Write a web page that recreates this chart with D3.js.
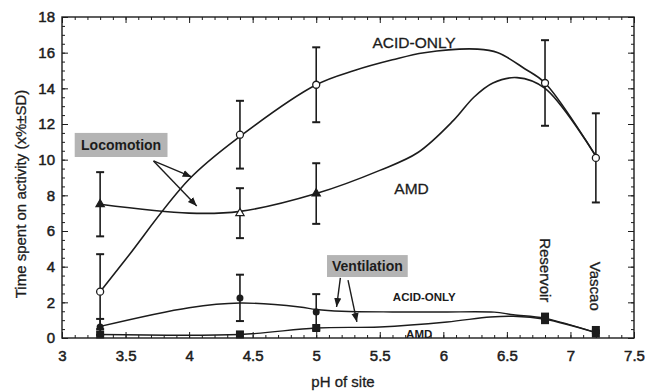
<!DOCTYPE html>
<html><head><meta charset="utf-8">
<script src="https://cdn.jsdelivr.net/npm/d3@7"></script>
<style>
body{margin:0;background:#fff;}
svg{display:block;font-family:"Liberation Sans",Arial,sans-serif;}
</style></head>
<body><svg id="c" width="645" height="392"></svg>
<script>
// ---- data ----
const acidPH = [3.3, 4.4, 5.0];          // acid sites
const refPH = [6.8, 7.2];                // reference sites
const refNames = ["Reservoir", "Vascao"];
const locoAcid = [2.6, 11.4, 14.2];
const locoAcidSD = [2.1, 1.9, 2.1];
const locoAmd = [7.5, 7.0, 8.1];
const locoAmdSD = [1.8, 1.4, 1.7];
const locoRef = [14.3, 10.1];
const locoRefSD = [2.4, 2.5];
const ventAcid = [0.62, 2.25, 1.46];
const ventAcidSD = [0.45, 1.3, 1.0];
const ventAmd = [0.2, 0.2, 0.56];
const ventRefAcid = [1.2, 0.45];
const ventRefAmd = [1.0, 0.25];
// fitted curves
const fitLocoAcidPH = [3.3, 3.5, 4.0, 4.4, 5.0, 5.3, 5.6, 5.85, 6.27, 6.43, 6.64, 6.8, 7.2];
const fitLocoAcid   = [2.6, 4.4, 8.9, 11.3, 14.2, 15.0, 15.6, 16.0, 16.2, 16.0, 15.1, 14.3, 10.2];
const fitLocoAmdPH  = [3.3, 4.0, 4.4, 5.0, 5.5, 5.8, 6.08, 6.24, 6.39, 6.58, 6.8, 7.2];
const fitLocoAmd    = [7.5, 7.0, 7.1, 8.1, 9.4, 10.4, 12.2, 13.5, 14.3, 14.6, 14.0, 10.2];
const fitVentAcidPH = [3.3, 4.0, 4.4, 4.87, 5.0, 5.2, 5.6, 6.0, 6.4, 6.55, 6.8, 7.2];
const fitVentAcid   = [0.65, 1.7, 1.96, 1.74, 1.6, 1.5, 1.46, 1.46, 1.45, 1.3, 1.1, 0.3];
const fitVentAmdPH  = [3.3, 4.4, 5.0, 5.5, 6.03, 6.37, 6.55, 6.8, 7.2];
const fitVentAmd    = [0.2, 0.2, 0.56, 0.62, 0.9, 1.18, 1.22, 1.05, 0.3];
const xTicks = [3, 3.5, 4, 4.5, 5, 5.5, 6, 6.5, 7, 7.5];
const yTicks = [0, 2, 4, 6, 8, 10, 12, 14, 16, 18];
const xLabel = "pH of site";
const yLabel = "Time spent on activity (x%±SD)";

// ---- chart ----
const svg = d3.select("#c");
const x = d3.scaleLinear().domain([3, 7.5]).range([62, 634]);
const y = d3.scaleLinear().domain([0, 18]).range([338, 17]);
const ink = "#1c1c1c";

svg.append("defs").append("marker").attr("id","ah").attr("viewBox","0 0 10 10")
  .attr("refX",10).attr("refY",5).attr("markerWidth",9).attr("markerHeight",9)
  .attr("markerUnits","userSpaceOnUse").attr("orient","auto")
  .append("path").attr("d","M0,1 L10,5 L0,9 Z").attr("fill",ink);

// minor ticks
const xMinor = d3.range(30, 76).map(d => d / 10);
const yMinor = d3.range(0, 37).map(d => d / 2);
function styleAxis(g){ g.select(".domain").remove(); g.selectAll("line").attr("stroke",ink).attr("stroke-width",1); }
svg.append("g").attr("transform",`translate(0,${y(0)})`).call(d3.axisBottom(x).tickValues(xMinor).tickSize(-3).tickFormat("")).call(styleAxis);
svg.append("g").attr("transform",`translate(0,${y(18)})`).call(d3.axisTop(x).tickValues(xMinor).tickSize(-3).tickFormat("")).call(styleAxis);
svg.append("g").attr("transform",`translate(${x(3)},0)`).call(d3.axisLeft(y).tickValues(yMinor).tickSize(-3).tickFormat("")).call(styleAxis);
svg.append("g").attr("transform",`translate(${x(7.5)},0)`).call(d3.axisRight(y).tickValues(yMinor).tickSize(-3).tickFormat("")).call(styleAxis);
// major ticks + labels
const fx = d => String(d);
const gx = svg.append("g").attr("transform",`translate(0,${y(0)})`)
  .call(d3.axisBottom(x).tickValues(xTicks).tickSize(-6).tickPadding(12).tickFormat(fx)).call(styleAxis);
const gy = svg.append("g").attr("transform",`translate(${x(3)},0)`)
  .call(d3.axisLeft(y).tickValues(yTicks).tickSize(-6).tickPadding(7)).call(styleAxis);
svg.append("g").attr("transform",`translate(0,${y(18)})`).call(d3.axisTop(x).tickValues(xTicks).tickSize(-6).tickFormat("")).call(styleAxis);
svg.append("g").attr("transform",`translate(${x(7.5)},0)`).call(d3.axisRight(y).tickValues(yTicks).tickSize(-6).tickFormat("")).call(styleAxis);
[gx, gy].forEach(g => g.selectAll("text").attr("font-size",15).attr("font-family","Liberation Sans, Arial, sans-serif").attr("fill",ink).attr("stroke",ink).attr("stroke-width",0.5));

// frame
svg.append("rect").attr("x",x(3)).attr("y",y(18)).attr("width",x(7.5)-x(3)).attr("height",y(0)-y(18))
  .attr("fill","none").attr("stroke",ink).attr("stroke-width",1.4);

// curves
const line = d3.line().x(d => x(d[0])).y(d => y(d[1])).curve(d3.curveCatmullRom.alpha(0.5));
function curve(px, py, w){
  svg.append("path").attr("d", line(px.map((p,i)=>[p, py[i]]))).attr("fill","none").attr("stroke",ink).attr("stroke-width",w);
}
curve(fitLocoAcidPH, fitLocoAcid, 1.6);
curve(fitLocoAmdPH, fitLocoAmd, 1.6);
curve(fitVentAcidPH, fitVentAcid, 1.4);
curve(fitVentAmdPH, fitVentAmd, 1.4);

// error bars
function errBars(px, vals, sds){
  const g = svg.append("g").attr("stroke",ink).attr("stroke-width",1.6);
  px.forEach((p,i)=>{
    const lo = Math.max(0, vals[i]-sds[i]), hi = vals[i]+sds[i];
    g.append("line").attr("x1",x(p)).attr("x2",x(p)).attr("y1",y(lo)).attr("y2",y(hi));
    g.append("line").attr("x1",x(p)-4).attr("x2",x(p)+4).attr("y1",y(hi)).attr("y2",y(hi)).attr("stroke-width",2);
    g.append("line").attr("x1",x(p)-4).attr("x2",x(p)+4).attr("y1",y(lo)).attr("y2",y(lo)).attr("stroke-width",2);
  });
}
errBars(acidPH, locoAcid, locoAcidSD);
errBars(acidPH, locoAmd, locoAmdSD);
errBars(refPH, locoRef, locoRefSD);
errBars(acidPH, ventAcid, ventAcidSD);

// markers
const tri = d3.symbol().type(d3.symbolTriangle).size(30);
acidPH.forEach((p,i)=>{
  svg.append("path").attr("d",tri()).attr("transform",`translate(${x(p)},${y(locoAmd[i])})`)
    .attr("fill", i===1 ? "#fff" : ink).attr("stroke",ink).attr("stroke-width",1.2);
  svg.append("circle").attr("cx",x(p)).attr("cy",y(locoAcid[i])).attr("r",3.5).attr("fill","#fff").attr("stroke",ink).attr("stroke-width",1.3);
  svg.append("rect").attr("x",x(p)-4).attr("y",y(ventAmd[i])-4).attr("width",8).attr("height",8).attr("fill",ink);
  svg.append("circle").attr("cx",x(p)).attr("cy",y(ventAcid[i])).attr("r",3.5).attr("fill",ink);
});
refPH.forEach((p,i)=>{
  svg.append("circle").attr("cx",x(p)).attr("cy",y(locoRef[i])).attr("r",3.5).attr("fill","#fff").attr("stroke",ink).attr("stroke-width",1.3);
  svg.append("rect").attr("x",x(p)-4).attr("y",y(ventRefAcid[i])-4).attr("width",8).attr("height",8).attr("fill",ink);
  svg.append("rect").attr("x",x(p)-4).attr("y",y(ventRefAmd[i])-4).attr("width",8).attr("height",8).attr("fill",ink);
});

// annotations (positions in data units)
function label(t, px, py, size, bold){
  svg.append("text").attr("x",x(px)).attr("y",y(py)).attr("text-anchor","middle").attr("dominant-baseline","central")
    .attr("font-size",size).attr("font-weight",bold?"bold":"normal").attr("fill",ink)
    .attr("stroke", bold?"none":ink).attr("stroke-width",0.3).text(t);
}
label("ACID-ONLY", 5.77, 16.55, 15.5, false);
label("AMD", 5.75, 8.41, 15.5, false);
label("ACID-ONLY", 5.85, 2.3, 11.5, true);
label("AMD", 5.81, 0.22, 11.5, true);

function box(t, p0, p1, v0, v1){
  svg.append("rect").attr("x",x(p0)).attr("y",y(v0)).attr("width",x(p1)-x(p0)).attr("height",y(v1)-y(v0)).attr("fill","#b4b4b4");
  svg.append("text").attr("x",(x(p0)+x(p1))/2).attr("y",(y(v0)+y(v1))/2).attr("text-anchor","middle").attr("dominant-baseline","central")
    .attr("font-size",14).attr("font-weight","bold").attr("fill",ink).text(t);
}
box("Locomotion", 3.10, 3.83, 11.5, 10.15);
box("Ventilation", 5.085, 5.72, 4.65, 3.42);

function arrow(p0, v0, p1, v1){
  svg.append("line").attr("x1",x(p0)).attr("y1",y(v0)).attr("x2",x(p1)).attr("y2",y(v1))
    .attr("stroke",ink).attr("stroke-width",1.4).attr("marker-end","url(#ah)");
}
arrow(3.72, 9.93, 4.02, 9.03);
arrow(3.72, 9.93, 4.06, 7.4);
arrow(5.19, 3.37, 5.16, 1.74);
arrow(5.25, 3.25, 5.32, 0.9);

// site names (rotated)
const refLabelV = [3.8, 2.9];
refPH.forEach((p,i)=>{
  svg.append("text").attr("transform",`translate(${x(p)},${y(refLabelV[i])}) rotate(90)`)
    .attr("text-anchor","middle").attr("dominant-baseline","central").attr("font-size",15)
    .attr("fill",ink).attr("stroke",ink).attr("stroke-width",0.3).text(refNames[i]);
});

// axis titles
svg.append("text").attr("x",343).attr("y",387).attr("text-anchor","middle").attr("font-size",15)
  .attr("fill",ink).attr("stroke",ink).attr("stroke-width",0.3).text(xLabel);
svg.append("text").attr("transform","translate(25.5,194) rotate(-90)").attr("text-anchor","middle").attr("font-size",15)
  .attr("fill",ink).attr("stroke",ink).attr("stroke-width",0.3).text(yLabel);
</script></body></html>
